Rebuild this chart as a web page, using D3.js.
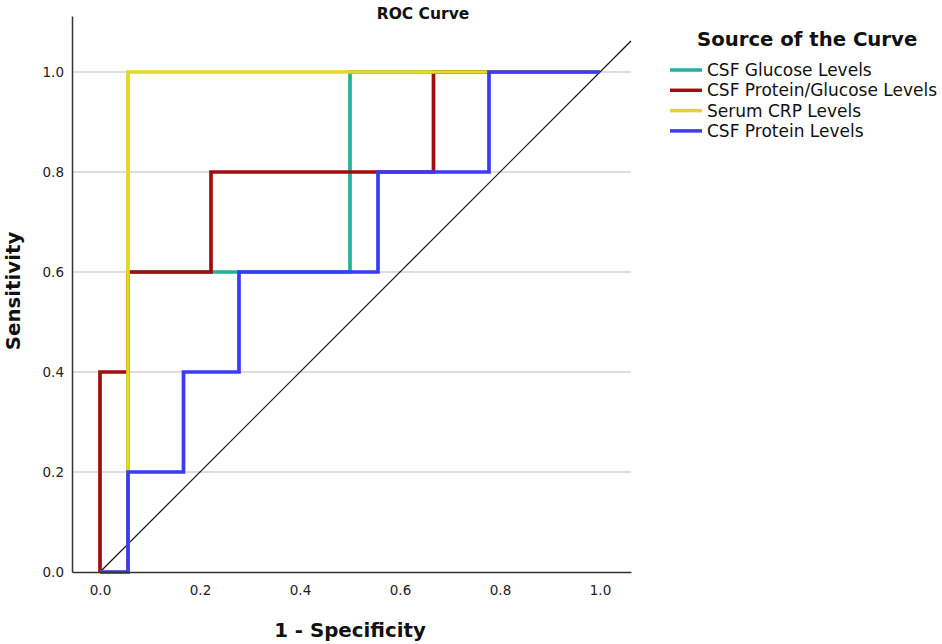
<!DOCTYPE html>
<html>
    <head>
        <meta charset="utf-8" />
        <title>ROC Curve</title>
        <style type="text/css">
            body {
                margin: 0;
                background-color: #fff;
            }
            .axis path {
                stroke: #333;
                stroke-width: 1.5px;
            }
            .axis text {
                fill: #222;
                font-family: "DejaVu Sans", sans-serif;
                font-size: 13.5px;
            }
            .grid line {
                stroke: #bbb;
                stroke-width: 1px;
            }
            .curve {
                fill: none;
                stroke-width: 3.7px;
                stroke-linejoin: miter;
            }
            .title {
                font-family: "DejaVu Sans", sans-serif;
                font-weight: bold;
                fill: #111;
            }
            .legend text {
                font-family: "DejaVu Sans", sans-serif;
                font-size: 17px;
                fill: #111;
            }
        </style>
        <script src="https://d3js.org/d3.v7.min.js"></script>
    </head>
    <body>
        <div id="chart"></div>
        <script type="text/javascript">
            var width = 942,
                height = 644;

            // data (18 negatives, 5 positives)
            var seriesNames = [
                "CSF Glucose Levels",
                "CSF Protein/Glucose Levels",
                "Serum CRP Levels",
                "CSF Protein Levels"
            ];
            var seriesColors = ["#1fb39e", "#a30c0c", "#e4d71c", "#3b3bf7"];

            var glucoseFpr = [0, 0.056, 0.056, 0.5, 0.5, 1];
            var glucoseTpr = [0, 0, 0.6, 0.6, 1, 1];

            var ratioFpr = [0, 0, 0.056, 0.056, 0.222, 0.222, 0.667, 0.667, 1];
            var ratioTpr = [0, 0.4, 0.4, 0.6, 0.6, 0.8, 0.8, 1, 1];

            var crpFpr = [0, 0.056, 0.056, 1];
            var crpTpr = [0, 0, 1, 1];

            var proteinFpr = [0, 0.056, 0.056, 0.167, 0.167, 0.278, 0.278, 0.556, 0.556, 0.778, 0.778, 1];
            var proteinTpr = [0, 0, 0.2, 0.2, 0.4, 0.4, 0.6, 0.6, 0.8, 0.8, 1, 1];

            var tickValues = [0, 0.2, 0.4, 0.6, 0.8, 1.0];
            var xExtent = [-0.056, 1.062],
                yExtent = [0, 1.112];

            var series = [
                [glucoseFpr, glucoseTpr],
                [ratioFpr, ratioTpr],
                [crpFpr, crpTpr],
                [proteinFpr, proteinTpr]
            ].map(function (s, i) {
                return {
                    name: seriesNames[i],
                    color: seriesColors[i],
                    points: s[0].map(function (x, j) {
                        return [x, s[1][j]];
                    })
                };
            });

            var svg = d3
                .select("#chart")
                .append("svg")
                .attr("width", width)
                .attr("height", height);

            var xScale = d3.scaleLinear().domain(xExtent).range([72, 631]);
            var yScale = d3.scaleLinear().domain(yExtent).range([572, 16]);

            // gridlines
            svg.append("g")
                .attr("class", "grid")
                .selectAll("line")
                .data(tickValues.slice(1))
                .enter()
                .append("line")
                .attr("x1", xScale(xExtent[0]))
                .attr("x2", xScale(xExtent[1]))
                .attr("y1", function (d) { return yScale(d); })
                .attr("y2", function (d) { return yScale(d); });

            // reference diagonal
            svg.append("line")
                .attr("x1", xScale(0))
                .attr("y1", yScale(0))
                .attr("x2", xScale(xExtent[1]))
                .attr("y2", yScale(xExtent[1]))
                .attr("stroke", "#111")
                .attr("stroke-width", 1.2);

            var line = d3
                .line()
                .x(function (d) { return xScale(d[0]); })
                .y(function (d) { return yScale(d[1]); });

            svg.selectAll(".curve")
                .data(series)
                .enter()
                .append("path")
                .attr("class", "curve")
                .attr("stroke", function (d) { return d.color; })
                .attr("d", function (d) { return line(d.points); });

            var fmt = d3.format(".1f");
            var xAxis = d3.axisBottom(xScale).tickValues(tickValues).tickFormat(fmt).tickSize(0).tickPadding(13);
            var yAxis = d3.axisLeft(yScale).tickValues(tickValues).tickFormat(fmt).tickSize(0).tickPadding(8);

            svg.append("g")
                .attr("class", "axis")
                .attr("transform", "translate(0," + yScale(0) + ")")
                .call(xAxis);

            svg.append("g")
                .attr("class", "axis")
                .attr("transform", "translate(" + xScale(xExtent[0]) + ",0)")
                .call(yAxis);

            svg.selectAll(".axis text").attr("fill", "#222");

            // titles
            svg.append("text")
                .attr("class", "title")
                .attr("x", 423)
                .attr("y", 19)
                .attr("text-anchor", "middle")
                .style("font-size", "15.5px")
                .text("ROC Curve");

            svg.append("text")
                .attr("class", "title")
                .attr("x", 350)
                .attr("y", 637)
                .attr("text-anchor", "middle")
                .style("font-size", "19.8px")
                .text("1 - Specificity");

            svg.append("text")
                .attr("class", "title")
                .attr("transform", "translate(20,291) rotate(-90)")
                .attr("text-anchor", "middle")
                .style("font-size", "19.8px")
                .text("Sensitivity");

            // legend
            svg.append("text")
                .attr("class", "title")
                .attr("x", 697)
                .attr("y", 46)
                .style("font-size", "19.7px")
                .text("Source of the Curve");

            var legend = svg
                .append("g")
                .attr("class", "legend")
                .selectAll("g")
                .data(series)
                .enter()
                .append("g")
                .attr("transform", function (d, i) {
                    return "translate(670," + (70 + i * 20.3) + ")";
                });

            legend.append("line")
                .attr("x1", 0)
                .attr("x2", 32)
                .attr("stroke", function (d) { return d.color; })
                .attr("stroke-width", 3.5);

            legend.append("text")
                .attr("x", 37)
                .attr("y", 6)
                .text(function (d) { return d.name; });
        </script>
    </body>
</html>
